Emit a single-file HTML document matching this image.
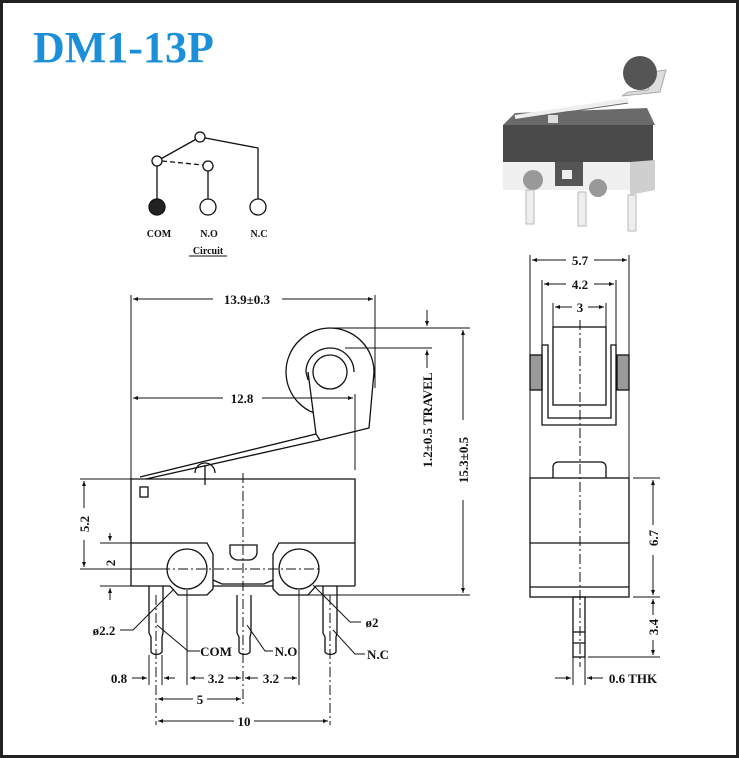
<!DOCTYPE html>
<html><head><meta charset="utf-8"><style>
html,body{margin:0;padding:0;background:#fff}
svg{display:block}
text{font-family:"Liberation Serif",serif;font-weight:bold;fill:#111}
</style></head><body>
<svg width="739" height="758" viewBox="0 0 739 758" xmlns="http://www.w3.org/2000/svg">
<defs>
<marker id="a" viewBox="0 0 10 10" refX="10" refY="5" markerWidth="7" markerHeight="5" orient="auto-start-reverse" markerUnits="userSpaceOnUse"><path d="M0,1 L10,5 L0,9 z" fill="#111"/></marker>
</defs>
<rect x="1.5" y="1.5" width="736" height="755" fill="#fff" stroke="#222" stroke-width="3"/>
<text x="33" y="62" font-size="44" style="fill:#1b8fd8">DM1-13P</text>

<!-- circuit -->
<g stroke="#111" stroke-width="1.3" fill="#fff">
<line x1="157" y1="161" x2="200" y2="137"/>
<polyline points="200,137 258,148 258,207" fill="none"/>
<line x1="157" y1="161" x2="157" y2="207"/>
<line x1="208" y1="166" x2="208" y2="207"/>
<line x1="162" y1="161" x2="203" y2="165" stroke-dasharray="5,3"/>
<circle cx="200" cy="137" r="5"/><circle cx="157" cy="161" r="5"/><circle cx="208" cy="166" r="5"/>
<circle cx="157" cy="207" r="8" fill="#222"/><circle cx="208" cy="207" r="8"/><circle cx="258" cy="207" r="8"/>
</g>
<g font-size="10" text-anchor="middle"><text x="159" y="237">COM</text><text x="209" y="237">N.O</text><text x="259" y="237">N.C</text>
<text x="208" y="254">Circuit</text></g>
<line x1="189" y1="256" x2="227" y2="256" stroke="#111"/>

<!-- photo -->
<g>
<polygon points="515,113 647,108 655,125 503,125" fill="#6a6a6a"/>
<line x1="515" y1="117" x2="628" y2="100" stroke="#eee" stroke-width="4"/>
<line x1="513" y1="120" x2="628" y2="103" stroke="#666" stroke-width="1"/>
<rect x="548" y="115" width="10" height="8" fill="#ddd"/>
<rect x="503" y="125" width="150" height="37" fill="#4a4a4a"/>
<polygon points="503,162 655,162 655,190 503,190" fill="#f0f0f0"/>
<polygon points="630,162 655,160 655,190 630,195" fill="#cfcfcf"/>
<rect x="555" y="162" width="28" height="24" fill="#555"/>
<rect x="562" y="170" width="10" height="9" fill="#eee"/>
<circle cx="533" cy="180" r="10" fill="#999"/><circle cx="598" cy="188" r="9" fill="#999"/>
<rect x="526" y="190" width="8" height="34" fill="#eee" stroke="#bbb"/>
<rect x="578" y="192" width="8" height="34" fill="#eee" stroke="#bbb"/>
<rect x="628" y="195" width="8" height="36" fill="#eee" stroke="#bbb"/>
<polygon points="622,96 660,92 666,70 652,72 648,90 628,92" fill="#ddd" stroke="#aaa"/>
<circle cx="640" cy="73" r="17" fill="#555"/>
</g>

<!-- front view -->
<g stroke="#111" stroke-width="1.3" fill="none">
<polyline points="131,586 131,479 355,479 355,586"/>
<polyline points="131,586 170,586 178,595 207,595 213,589 213,554 207,543 187,543 131,543"/>
<polyline points="355,586 316,586 308,595 279,595 273,589 273,554 279,543 299,543 355,543"/>
<polyline points="213,580 222,584 264,584 273,580"/>
<line x1="213" y1="586" x2="273" y2="586"/>
<path d="M230,545 h27 v8 a8,8 0 0 1 -8,7 h-11 a8,8 0 0 1 -8,-7 z"/>
<circle cx="187" cy="569" r="20"/><circle cx="299" cy="569" r="20"/>
<rect x="140" y="487" width="8" height="10"/>
<!-- lever -->
<line x1="140" y1="477" x2="316" y2="434"/>
<line x1="146" y1="479" x2="320" y2="440"/>
<path d="M195,473 a10,10 0 0 1 20,0"/>
<line x1="205" y1="465" x2="205" y2="485"/>
<!-- roller -->
<circle cx="330" cy="372" r="44"/>
<polygon points="308,372 316,434 320,440 369,428 374,372" fill="#fff" stroke="none"/>
<path d="M308,372 L316,434 L320,440 L369,428 L374,372"/>
<path d="M306,372 A24,24 0 0 1 354,372"/>
<line x1="306" y1="372" x2="308" y2="380"/>
<circle cx="330" cy="372" r="17"/>
<!-- pins -->
<path d="M149,586 V633 l2,4 V652 a6,4 0 0 0 11,0 V637 l1,-4 V586"/>
<path d="M237,595 V633 l2,4 V652 a6,4 0 0 0 11,0 V637 l1,-4 V595"/>
<path d="M323,586 V633 l2,4 V652 a6,4 0 0 0 11,0 V637 l1,-4 V586"/>
</g>
<g stroke="#111" stroke-width="1" fill="none">
<line x1="243" y1="473" x2="243" y2="705" stroke-dasharray="10,3,2,3"/>
<line x1="156" y1="595" x2="156" y2="725" stroke-dasharray="10,3,2,3"/>
<line x1="330" y1="595" x2="330" y2="725" stroke-dasharray="10,3,2,3"/>
<line x1="160" y1="569" x2="320" y2="569" stroke-dasharray="10,3,2,3"/>
<line x1="131" y1="295" x2="131" y2="479"/><line x1="375" y1="295" x2="375" y2="388"/>
<line x1="133" y1="299" x2="213" y2="299" marker-start="url(#a)"/><line x1="282" y1="299" x2="373" y2="299" marker-end="url(#a)"/>
<line x1="355" y1="394" x2="355" y2="470"/>
<line x1="133" y1="398" x2="223" y2="398" marker-start="url(#a)"/><line x1="262" y1="398" x2="353" y2="398" marker-end="url(#a)"/>
<line x1="330" y1="328" x2="470" y2="328"/><line x1="300" y1="595" x2="470" y2="595"/>
<line x1="345" y1="348" x2="432" y2="348"/>
<line x1="463" y1="420" x2="463" y2="330" marker-end="url(#a)"/><line x1="463" y1="500" x2="463" y2="593" marker-end="url(#a)"/>
<line x1="427" y1="310" x2="427" y2="326" marker-end="url(#a)"/><line x1="427" y1="368" x2="427" y2="350" marker-end="url(#a)"/>
<line x1="80" y1="479" x2="131" y2="479"/><line x1="80" y1="569" x2="160" y2="569"/><line x1="100" y1="543" x2="131" y2="543"/><line x1="100" y1="586" x2="131" y2="586"/>
<line x1="84" y1="508" x2="84" y2="481" marker-end="url(#a)"/><line x1="84" y1="540" x2="84" y2="567" marker-end="url(#a)"/>
<line x1="110" y1="533" x2="110" y2="541" marker-end="url(#a)"/><line x1="110" y1="600" x2="110" y2="588" marker-end="url(#a)"/>
<line x1="149" y1="655" x2="149" y2="685"/><line x1="162" y1="655" x2="162" y2="685"/>
<line x1="187" y1="590" x2="187" y2="685"/><line x1="299" y1="590" x2="299" y2="685"/>
<line x1="132" y1="678" x2="147" y2="678" marker-end="url(#a)"/>
<line x1="175" y1="678" x2="164" y2="678" marker-end="url(#a)"/>
<line x1="190" y1="678" x2="204" y2="678" marker-start="url(#a)"/><line x1="228" y1="678" x2="241" y2="678" marker-end="url(#a)"/>
<line x1="245" y1="678" x2="258" y2="678" marker-start="url(#a)"/><line x1="284" y1="678" x2="297" y2="678" marker-end="url(#a)"/>
<line x1="158" y1="699" x2="193" y2="699" marker-start="url(#a)"/><line x1="207" y1="699" x2="241" y2="699" marker-end="url(#a)"/>
<line x1="158" y1="721" x2="234" y2="721" marker-start="url(#a)"/><line x1="254" y1="721" x2="328" y2="721" marker-end="url(#a)"/>
<polyline points="120,630 133,630 174,589"/>
<polyline points="157,625 188,651 200,651"/>
<polyline points="247,625 265,651 273,651"/>
<polyline points="333,630 355,654 365,654"/>
<polyline points="313,585 350,622 361,622"/>
</g>
<g font-size="13" text-anchor="middle">
<text x="247" y="304">13.9±0.3</text>
<text x="242" y="403">12.8</text>
<text transform="translate(468,460) rotate(-90)">15.3±0.5</text>
<text transform="translate(432,420) rotate(-90)">1.2±0.5 TRAVEL</text>
<text transform="translate(89,524) rotate(-90)">5.2</text>
<text transform="translate(115,563) rotate(-90)">2</text>
<text x="119" y="683">0.8</text>
<text x="216" y="683">3.2</text>
<text x="271" y="683">3.2</text>
<text x="200" y="704">5</text>
<text x="244" y="726">10</text>
<text x="104" y="635">ø2.2</text>
<text x="216" y="656">COM</text>
<text x="286" y="656">N.O</text>
<text x="378" y="659">N.C</text>
<text x="372" y="627">ø2</text>
</g>

<!-- side view -->
<g stroke="#111" stroke-width="1.3" fill="none">
<rect x="530" y="355" width="12" height="35" fill="#999"/>
<rect x="617" y="355" width="12" height="35" fill="#999"/>
<rect x="553" y="327" width="53" height="78"/>
<polyline points="542,345 542,425 616,425 616,345 611,345 611,418 548,418 548,345 542,345"/>
<path d="M553,478 V467 a5,5 0 0 1 5,-5 H601 a5,5 0 0 1 5,5 V478"/>
<rect x="530" y="478" width="99" height="119"/>
<line x1="530" y1="543" x2="629" y2="543"/><line x1="530" y1="587" x2="629" y2="587"/>
<rect x="573" y="597" width="12" height="60"/>
<line x1="573" y1="632" x2="585" y2="632"/><line x1="573" y1="643" x2="585" y2="643"/>
</g>
<g stroke="#111" stroke-width="1" fill="none">
<line x1="580" y1="320" x2="580" y2="667" stroke-dasharray="10,3,2,3"/>
<line x1="530" y1="255" x2="530" y2="478"/><line x1="629" y1="255" x2="629" y2="478"/>
<line x1="542" y1="280" x2="542" y2="345"/><line x1="616" y1="280" x2="616" y2="345"/>
<line x1="553" y1="303" x2="553" y2="327"/><line x1="606" y1="303" x2="606" y2="327"/>
<line x1="532" y1="260" x2="566" y2="260" marker-start="url(#a)"/><line x1="594" y1="260" x2="627" y2="260" marker-end="url(#a)"/>
<line x1="544" y1="284" x2="566" y2="284" marker-start="url(#a)"/><line x1="594" y1="284" x2="614" y2="284" marker-end="url(#a)"/>
<line x1="555" y1="307" x2="572" y2="307" marker-start="url(#a)"/><line x1="588" y1="307" x2="604" y2="307" marker-end="url(#a)"/>
<line x1="633" y1="478" x2="660" y2="478"/><line x1="633" y1="597" x2="660" y2="597"/><line x1="588" y1="657" x2="660" y2="657"/>
<line x1="653" y1="525" x2="653" y2="480" marker-end="url(#a)"/><line x1="653" y1="555" x2="653" y2="595" marker-end="url(#a)"/>
<line x1="653" y1="615" x2="653" y2="599" marker-end="url(#a)"/><line x1="653" y1="640" x2="653" y2="655" marker-end="url(#a)"/>
<line x1="573" y1="657" x2="573" y2="685"/><line x1="585" y1="657" x2="585" y2="685"/>
<line x1="555" y1="678" x2="571" y2="678" marker-end="url(#a)"/><line x1="603" y1="678" x2="587" y2="678" marker-end="url(#a)"/>
</g>
<g font-size="13" text-anchor="middle">
<text x="580" y="265">5.7</text><text x="580" y="289">4.2</text><text x="580" y="312">3</text>
<text transform="translate(658,538) rotate(-90)">6.7</text>
<text transform="translate(658,627) rotate(-90)">3.4</text>
<text x="633" y="683">0.6  THK</text>
</g>
</svg>
</body></html>
